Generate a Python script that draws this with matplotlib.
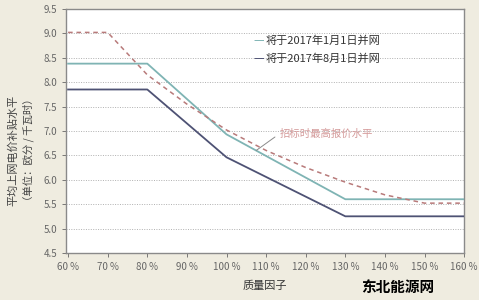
import matplotlib
matplotlib.use('Agg')
import matplotlib.pyplot as plt

plt.rcParams['font.family'] = ['Noto Sans CJK SC', 'DejaVu Sans']

# quality factor (%)
x_jan = [60, 80, 100, 130, 160]
y_jan = [8.38, 8.38, 6.93, 5.6, 5.6]

x_aug = [60, 80, 100, 130, 160]
y_aug = [7.85, 7.85, 6.46, 5.25, 5.25]

x_bid = [60, 70, 80, 90, 100, 110, 120, 130, 140, 150, 160]
y_bid = [9.02, 9.02, 8.15, 7.55, 7.02, 6.6, 6.25, 5.95, 5.69, 5.52, 5.52]

xticks = [60, 70, 80, 90, 100, 110, 120, 130, 140, 150, 160]
yticks = [4.5, 5.0, 5.5, 6.0, 6.5, 7.0, 7.5, 8.0, 8.5, 9.0, 9.5]

label_jan = '将于2017年1月1日并网'
label_aug = '将于2017年8月1日并网'
label_bid = '招标时最高报价水平'

bg = '#efece0'
c_jan = '#7fb4b4'
c_aug = '#4e5274'
c_bid = '#b87a7a'

fig = plt.figure(figsize=(4.79, 3.0), dpi=100, facecolor=bg)
ax = fig.add_axes([0.138, 0.157, 0.831, 0.813])
ax.set_facecolor('white')

for y in yticks[1:-1]:
    ax.axhline(y, color='#b0b0b0', lw=0.7, ls=(0, (1, 1.5)), zorder=1)

ax.plot(x_jan, y_jan, color=c_jan, lw=1.3, zorder=3)
ax.plot(x_aug, y_aug, color=c_aug, lw=1.3, zorder=3)
ax.plot(x_bid, y_bid, color=c_bid, lw=1.1, ls=(0, (3, 2.5)), zorder=4)

ax.set_xlim(59.5, 159.5)
ax.set_ylim(4.5, 9.5)
ax.set_xticks(xticks)
ax.set_xticklabels(['%d %%' % v for v in xticks])
ax.set_yticks(yticks)
ax.set_yticklabels(['%.1f' % v for v in yticks])
ax.tick_params(labelsize=7, colors='#666666', length=3, width=0.6)
for s in ax.spines.values():
    s.set_color('#8a8a8a')
    s.set_linewidth(1.0)

# legend as plain text lines
ax.text(0.47, 0.87, '—', transform=ax.transAxes, color=c_jan, fontsize=8.5, va='center')
ax.text(0.50, 0.87, label_jan, transform=ax.transAxes, color='#333333', fontsize=8, va='center')
ax.text(0.47, 0.795, '—', transform=ax.transAxes, color=c_aug, fontsize=8.5, va='center')
ax.text(0.50, 0.795, label_aug, transform=ax.transAxes, color='#333333', fontsize=8, va='center')

ax.annotate(label_bid, xy=(107.5, 6.6), xytext=(113.5, 6.95), color='#d49a9a', fontsize=7.5,
            va='center', arrowprops=dict(arrowstyle='-', color='#8a8a8a', lw=0.7, shrinkB=0,
                                         relpos=(0, 0.5)))

ax.set_xlabel('质量因子', fontsize=8, color='#333333', labelpad=6)
fig.text(0.027, 0.5, '平均上网电价补贴水平', rotation=90, fontsize=8, color='#444444',
         ha='center', va='center')
fig.text(0.06, 0.5, '（单位：欧分 / 千瓦时）', rotation=90, fontsize=7.5, color='#444444',
         ha='center', va='center')

fig.text(0.83, 0.045, '东北能源网', fontsize=10.5, color='black', weight='bold',
         ha='center', va='center')

fig.savefig('out.png', dpi=100, facecolor=bg)
